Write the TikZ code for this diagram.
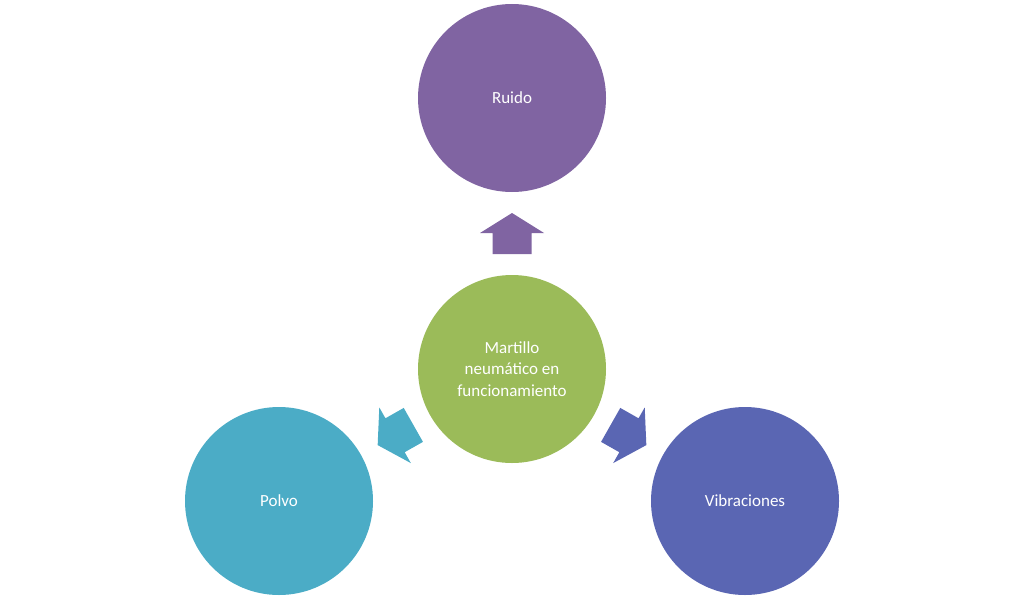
\documentclass[tikz,border=0pt]{standalone}
\usepackage{fontspec}
\usetikzlibrary{calc}
\setmainfont{Carlito}
\begin{document}
\begin{tikzpicture}[x=1pt,y=-1pt,
  circ/.style={circle,minimum size=188pt,inner sep=0pt,text=white,font=\fontsize{17}{21.5}\selectfont,align=center}]
\definecolor{cpur}{HTML}{8064A2}
\definecolor{cgrn}{HTML}{9BBB59}
\definecolor{ctel}{HTML}{4BACC6}
\definecolor{cblu}{HTML}{5A66B3}
\useasboundingbox (0,0) rectangle (1024,602);
\node[circ,fill=cgrn] (c) at (512,369) {Martillo\\neumático en\\funcionamiento};
\node[circ,fill=cpur] (r) at (512,98) {Ruido};
\node[circ,fill=ctel] (p) at (279,501) {Polvo};
\node[circ,fill=cblu] (v) at (745,501) {Vibraciones};
\foreach \t/\col in {r/cpur,p/ctel,v/cblu}{
  \coordinate (m\t) at ($(c)!0.5!(\t)$);
  \fill[\col] let \p1=($(\t)-(c)$), \n1={atan2(\y1,\x1)} in
     [shift={(m\t)},rotate=\n1] (-20.5,-19.5) -- (0.5,-19.5) -- (0.5,-32) -- (20.5,0) -- (0.5,32) -- (0.5,19.5) -- (-20.5,19.5) -- cycle;
}
\end{tikzpicture}
\end{document}
